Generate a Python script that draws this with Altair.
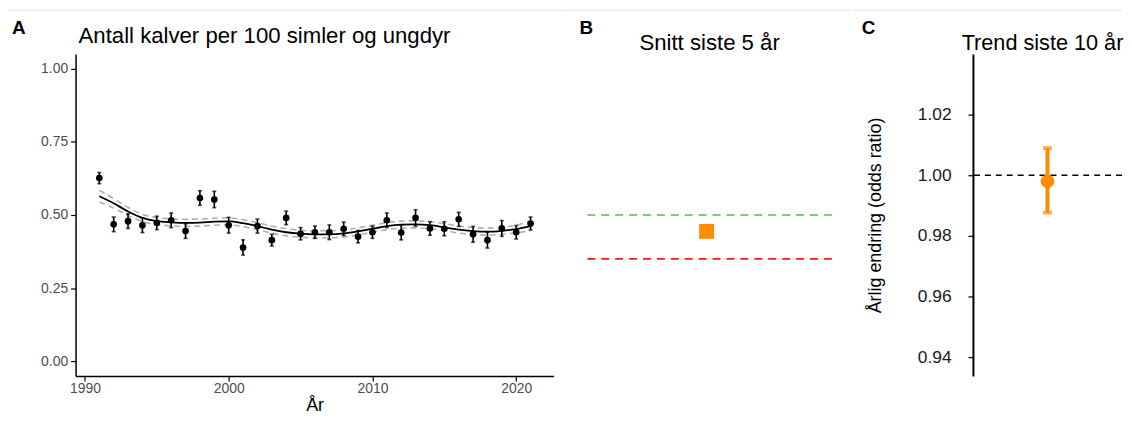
import altair as alt
import pandas as pd

FONT = "Liberation Sans"

# ---- Panel A data ----
years = [1991, 1992, 1993, 1994, 1995, 1996, 1997, 1998, 1999, 2000,
         2001, 2002, 2003, 2004, 2005, 2006, 2007, 2008, 2009, 2010,
         2011, 2012, 2013, 2014, 2015, 2016, 2017, 2018, 2019, 2020, 2021]
obs = [0.626, 0.468, 0.479, 0.465, 0.473, 0.482, 0.445, 0.558, 0.553, 0.465,
       0.389, 0.462, 0.414, 0.490, 0.436, 0.441, 0.441, 0.453, 0.426, 0.441,
       0.482, 0.440, 0.490, 0.454, 0.453, 0.485, 0.434, 0.414, 0.454, 0.441, 0.471]
obs_lo = [0.607, 0.443, 0.454, 0.440, 0.450, 0.457, 0.420, 0.533, 0.525, 0.438,
          0.363, 0.438, 0.394, 0.467, 0.415, 0.420, 0.416, 0.430, 0.405, 0.420,
          0.457, 0.415, 0.462, 0.431, 0.429, 0.461, 0.407, 0.387, 0.427, 0.418, 0.449]
obs_hi = [0.645, 0.493, 0.504, 0.490, 0.496, 0.507, 0.470, 0.583, 0.581, 0.492,
          0.415, 0.486, 0.434, 0.513, 0.457, 0.462, 0.466, 0.476, 0.447, 0.462,
          0.507, 0.465, 0.518, 0.477, 0.477, 0.509, 0.461, 0.441, 0.481, 0.464, 0.493]
fit = [0.564, 0.540, 0.512, 0.490, 0.479, 0.475, 0.473, 0.474, 0.477, 0.478,
       0.472, 0.462, 0.450, 0.441, 0.436, 0.434, 0.434, 0.437, 0.444, 0.453,
       0.462, 0.467, 0.468, 0.465, 0.458, 0.450, 0.445, 0.443, 0.446, 0.452, 0.462]
fit_lo = [0.544, 0.524, 0.498, 0.478, 0.467, 0.463, 0.461, 0.462, 0.465, 0.466,
          0.460, 0.450, 0.438, 0.429, 0.424, 0.422, 0.422, 0.425, 0.432, 0.441,
          0.450, 0.455, 0.456, 0.453, 0.446, 0.438, 0.433, 0.431, 0.434, 0.439, 0.446]
fit_hi = [0.584, 0.556, 0.526, 0.502, 0.491, 0.487, 0.485, 0.486, 0.489, 0.490,
          0.484, 0.474, 0.462, 0.453, 0.448, 0.446, 0.446, 0.449, 0.456, 0.465,
          0.474, 0.479, 0.480, 0.477, 0.470, 0.462, 0.457, 0.455, 0.458, 0.465, 0.478]

# ---- Panel B data ----
b_mean = [0.444]
b_green = [0.50]
b_red = [0.35]

# ---- Panel C data ----
c_or = [0.998]
c_lo = [0.9877]
c_hi = [1.0089]

# ---- texts ----
panel_letters = ["A", "B", "C"]
panel_titles = ["Antall kalver per 100 simler og ungdyr", "Snitt siste 5 år", "Trend siste 10 år"]

dfA = pd.DataFrame({"year": years, "obs": obs, "lo": obs_lo, "hi": obs_hi,
                    "fit": fit, "fit_lo": fit_lo, "fit_hi": fit_hi})

W_A, W_B, W_C, H = 481, 252, 150, 324
one = pd.DataFrame({"t": [0]})


def letter(txt, x):
    return alt.Chart(one).mark_text(text=txt, font=FONT, fontSize=19, fontWeight="bold",
                                    align="center", baseline="alphabetic", color="black").encode(
        x=alt.value(x), y=alt.value(-20))


def title(txt, x, y, align, size=22.3):
    return alt.Chart(one).mark_text(text=txt, font=FONT, fontSize=size, fontWeight="normal",
                                    align=align, baseline="alphabetic", color="black").encode(
        x=alt.value(x), y=alt.value(y))


def topline(x0, x1):
    return alt.Chart(one).mark_rule(color="#e0e0e0", strokeWidth=1).encode(
        x=alt.value(x0), x2=alt.value(x1), y=alt.value(-44))


xA = alt.X("year:Q", scale=alt.Scale(domain=[1989.35, 2022.6], nice=False, zero=False),
           axis=alt.Axis(values=[1990, 2000, 2010, 2020], format="d", title="År",
                         titleFontSize=18, titleFont=FONT, titleColor="black", titleFontWeight="normal",
                         titlePadding=1,
                         labelFontSize=14, labelFont=FONT, labelColor="#4d4d4d",
                         domainColor="black", domainWidth=1.5, tickColor="black", tickWidth=1.2,
                         tickSize=5, labelPadding=1, grid=False))
yScaleA = alt.Scale(domain=[-0.05, 1.05], nice=False, zero=False)
yAxisA = alt.Axis(values=[0, 0.25, 0.5, 0.75, 1.0], format=".2f", title=None,
                  labelFontSize=14, labelFont=FONT, labelColor="#4d4d4d",
                  domainColor="black", domainWidth=1.5, tickColor="black", tickWidth=1.2,
                  tickSize=5, labelPadding=3, grid=False)

baseA = alt.Chart(dfA)
bandA = alt.layer(
    baseA.mark_line(color="#b0b0b0", strokeWidth=1.6, strokeDash=[6, 4], interpolate="monotone").encode(
        x=xA, y=alt.Y("fit_lo:Q", scale=yScaleA, axis=yAxisA)),
    baseA.mark_line(color="#b0b0b0", strokeWidth=1.6, strokeDash=[6, 4], interpolate="monotone").encode(
        x=xA, y=alt.Y("fit_hi:Q", scale=yScaleA)),
)
lineA = baseA.mark_line(color="black", strokeWidth=1.8, interpolate="monotone").encode(
    x=xA, y=alt.Y("fit:Q", scale=yScaleA))
errA = baseA.mark_errorbar(ticks=alt.MarkConfig(size=4, color="black", strokeWidth=1.3),
                           color="black", thickness=1.6).encode(
    x=xA, y=alt.Y("lo:Q", scale=yScaleA, title=None), y2="hi:Q")
ptsA = baseA.mark_circle(color="black", size=45, opacity=1).encode(
    x=xA, y=alt.Y("obs:Q", scale=yScaleA))

panelA = alt.layer(bandA, lineA, errA, ptsA,
                   letter(panel_letters[0], -57),
                   title(panel_titles[0], 3, -11, "left"),
                   topline(-67, W_A + 13)).properties(width=W_A, height=H)

# ---- Panel B ----
dfB = pd.DataFrame({"x": [1], "mean": b_mean})
xB = alt.X("x:Q", scale=alt.Scale(domain=[0, 2], nice=False), axis=None)
yScaleB = alt.Scale(domain=[-0.05, 1.05], nice=False, zero=False)
greenB = alt.Chart(pd.DataFrame({"v": b_green})).mark_rule(
    color="#3dcc3d", strokeWidth=1.6, strokeDash=[8, 6]).encode(
    y=alt.Y("v:Q", scale=yScaleB, axis=None))
redB = alt.Chart(pd.DataFrame({"v": b_red})).mark_rule(
    color="#ff1a1a", strokeWidth=1.6, strokeDash=[8, 6]).encode(
    y=alt.Y("v:Q", scale=yScaleB, axis=None))
sqB = alt.Chart(dfB).mark_point(shape="square", filled=True, size=225, color="#ff8c00", opacity=1).encode(
    x=xB, y=alt.Y("mean:Q", scale=yScaleB, axis=None))
panelB = alt.layer(greenB, redB, sqB,
                   letter(panel_letters[1], 5),
                   title(panel_titles[1], 129, -4.5, "center"),
                   topline(-13, W_B + 20)).properties(width=W_B, height=H)

# ---- Panel C ----
dfC = pd.DataFrame({"x": [1], "or": c_or, "lo": c_lo, "hi": c_hi})
xC = alt.X("x:Q", scale=alt.Scale(domain=[0, 2], nice=False), axis=None)
yScaleC = alt.Scale(domain=[0.9339, 1.0399], nice=False, zero=False)
yAxisC = alt.Axis(values=[0.94, 0.96, 0.98, 1.00, 1.02], format=".2f",
                  titleFont=FONT, titleFontSize=18,
                  titleFontWeight="normal", titleColor="black", titlePadding=33,
                  labelFont=FONT, labelFontSize=17.5, labelColor="#1a1a1a",
                  domainColor="black", domainWidth=2, tickColor="black", tickWidth=1.2,
                  tickSize=5, labelPadding=17, grid=False)
refC = alt.Chart(pd.DataFrame({"v": [1.0]})).mark_rule(
    color="black", strokeWidth=1.6, strokeDash=[6, 5]).encode(
    y=alt.Y("v:Q", scale=yScaleC, axis=yAxisC, title="Årlig endring (odds ratio)"))
errC = alt.Chart(dfC).mark_errorbar(ticks=alt.MarkConfig(size=9, color="#ff8c00", strokeWidth=4),
                                    color="#ff8c00", thickness=4).encode(
    x=xC, y=alt.Y("lo:Q", scale=yScaleC, title="Årlig endring (odds ratio)"), y2="hi:Q")
ptC = alt.Chart(dfC).mark_circle(color="#ff8c00", size=190, opacity=1).encode(
    x=xC, y=alt.Y("or:Q", scale=yScaleC, title="Årlig endring (odds ratio)"))
panelC = alt.layer(refC, errC, ptC,
                   letter(panel_letters[2], -105),
                   title(panel_titles[2], 70, -4.5, "center", size=21.8),
                   topline(-120, W_C)).properties(width=W_C, height=H)

chart = alt.hconcat(panelA, panelB, panelC, spacing=0).properties(
    padding={"left": 0, "top": 0, "right": 0, "bottom": 0},
    background="white"
).configure_view(stroke=None)

chart.save("out.html", embed_options={"renderer": "svg", "actions": False})
